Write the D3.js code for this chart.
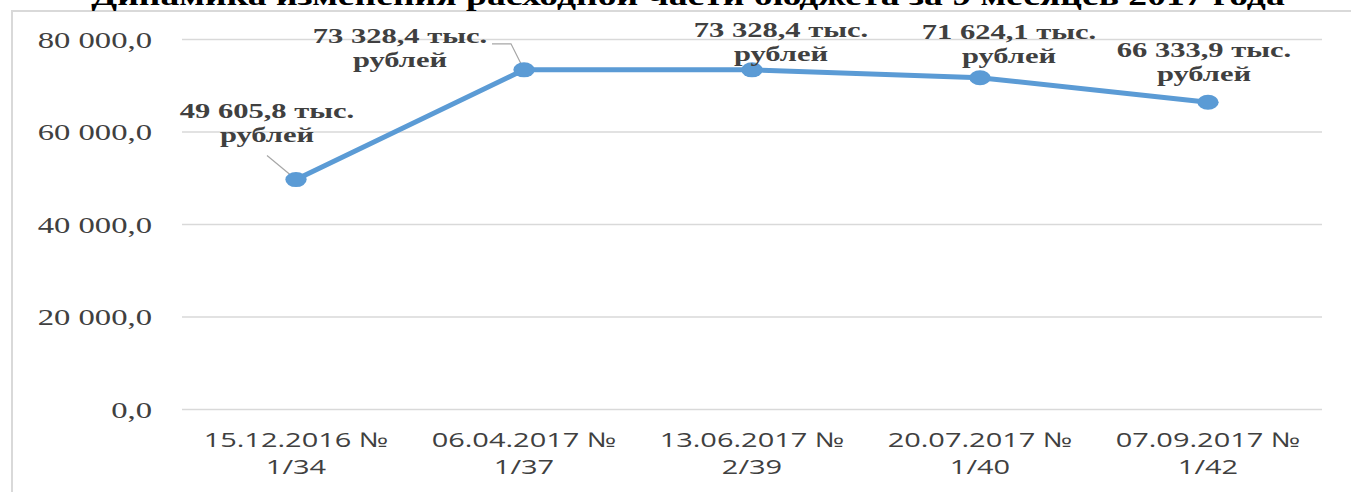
<!DOCTYPE html>
<html>
<head>
<meta charset="utf-8">
<script src="https://cdn.jsdelivr.net/npm/d3@7"></script>
<style>
  body { margin: 0; background: #fff; }
  svg { display: block; }
</style>
</head>
<body>
<div id="chart"></div>
<script>
var title = "Динамика изменения расходной части бюджета за 9 месяцев 2017 года";
var categories = [
  ["15.12.2016 №", "1/34"],
  ["06.04.2017 №", "1/37"],
  ["13.06.2017 №", "2/39"],
  ["20.07.2017 №", "1/40"],
  ["07.09.2017 №", "1/42"]
];
var values = [49605.8, 73328.4, 73328.4, 71624.1, 66333.9];
var yTicks = [0, 20000, 40000, 60000, 80000];

// manual label placement (relative to point), as in the source chart
var labelOffsets = [[-29, -62], [-124, -27], [29, -33], [29, -39], [-4, -45]];

var width = 1351, height = 492;
var sx = 1.42;              // the picture is stretched horizontally
var plotLeft = 182, plotRight = 1322, plotTop = 39, plotBottom = 409;
var lineColor = '#5b9bd5';
var textColor = '#404040';

var ru = d3.formatLocale({decimal: ",", thousands: "\u00a0", grouping: [3], currency: ["", ""]});
var fmt = ru.format(",.1f");

var svg = d3.select('#chart')
  .append("svg")
  .attr("width", width)
  .attr("height", height);

var x = d3.scaleBand()
  .domain(d3.range(categories.length))
  .range([plotLeft, plotRight]);

var y = d3.scaleLinear()
  .domain([0, 80000])
  .range([plotBottom, plotTop]);

function stretch(px, py){
  return "translate(" + px + "," + py + ") scale(" + sx + ",1)";
}

// frame
svg.append("path")
  .attr("d", "M12," + height + "V11H" + width)
  .attr("fill", "none")
  .attr("stroke", "#d9d9d9")
  .attr("stroke-width", 2);

// title (cut by the top edge)
svg.append("text")
  .attr("transform", stretch(688, 5))
  .attr("text-anchor", "middle")
  .attr("font-family", "Liberation Serif, Times New Roman, serif")
  .attr("font-weight", "bold")
  .attr("font-size", 26.5)
  .attr("fill", "#000")
  .text(title);

// y axis grid + labels
var yAxis = d3.axisLeft(y)
  .tickValues(yTicks)
  .tickSize(-(plotRight - plotLeft))
  .tickPadding(0)
  .tickFormat(fmt);

var gy = svg.append("g")
  .attr("transform", "translate(" + plotLeft + ",0)")
  .call(yAxis);

gy.select(".domain").remove();
gy.selectAll(".tick line")
  .attr("stroke", "#d9d9d9")
  .attr("stroke-width", 1.5);
gy.selectAll(".tick text")
  .attr("x", null)
  .attr("dy", null)
  .attr("transform", stretch(-30, 8))
  .attr("text-anchor", "end")
  .attr("font-family", "Liberation Serif, Times New Roman, serif")
  .attr("font-size", 23)
  .attr("fill", textColor);

// x axis labels
var xAxis = d3.axisBottom(x)
  .tickSize(0)
  .tickFormat(function(){ return ""; });

var gx = svg.append("g")
  .attr("transform", "translate(0," + plotBottom + ")")
  .call(xAxis);

gx.select(".domain").remove();
gx.selectAll(".tick text").remove();
gx.selectAll(".tick").each(function(d){
  var t = d3.select(this);
  categories[d].forEach(function(line, i){
    t.append("text")
      .attr("transform", stretch(0, 38 + i * 27))
      .attr("text-anchor", "middle")
      .attr("font-family", "Open Sans, sans-serif")
      .attr("font-size", 20.4)
      .attr("fill", textColor)
      .text(line);
  });
});

function cx(i){ return x(i) + x.bandwidth() / 2; }

// leader lines
var p0 = [cx(0), y(values[0])];
svg.append("path")
  .attr("d", "M" + (p0[0] - 29) + "," + (p0[1] - 24) + "L" + p0[0] + "," + p0[1])
  .attr("fill", "none")
  .attr("stroke", "#a6a6a6")
  .attr("stroke-width", 1.2);

var p1 = [cx(1), y(values[1])];
svg.append("path")
  .attr("d", "M" + (p1[0] - 32) + "," + (p1[1] - 26) + "H" + (p1[0] - 13) + "L" + (p1[0] - 1) + "," + (p1[1] - 2))
  .attr("fill", "none")
  .attr("stroke", "#a6a6a6")
  .attr("stroke-width", 1.2);

// line
var line = d3.line()
  .x(function(d, i){ return cx(i); })
  .y(function(d){ return y(d); });

svg.append("path")
  .datum(values)
  .attr("d", line)
  .attr("fill", "none")
  .attr("stroke", lineColor)
  .attr("stroke-width", 5)
  .attr("stroke-linejoin", "round");

svg.selectAll(".marker")
  .data(values)
  .enter()
  .append("ellipse")
  .attr("class", "marker")
  .attr("cx", function(d, i){ return cx(i); })
  .attr("cy", function(d){ return y(d); })
  .attr("rx", 7.5 * sx)
  .attr("ry", 7.5)
  .attr("fill", lineColor);

// data labels
var labels = svg.selectAll(".dlabel")
  .data(values)
  .enter()
  .append("g")
  .attr("class", "dlabel")
  .attr("transform", function(d, i){
    return stretch(cx(i) + labelOffsets[i][0], y(d) + labelOffsets[i][1]);
  });

labels.append("text")
  .attr("text-anchor", "middle")
  .attr("font-family", "Liberation Serif, Times New Roman, serif")
  .attr("font-weight", "bold")
  .attr("font-size", 21.5)
  .attr("fill", textColor)
  .each(function(d){
    var t = d3.select(this);
    t.append("tspan").attr("x", 0).attr("y", 0).text(fmt(d) + " тыс.");
    t.append("tspan").attr("x", 0).attr("y", 24).text("рублей");
  });
</script>
</body>
</html>
